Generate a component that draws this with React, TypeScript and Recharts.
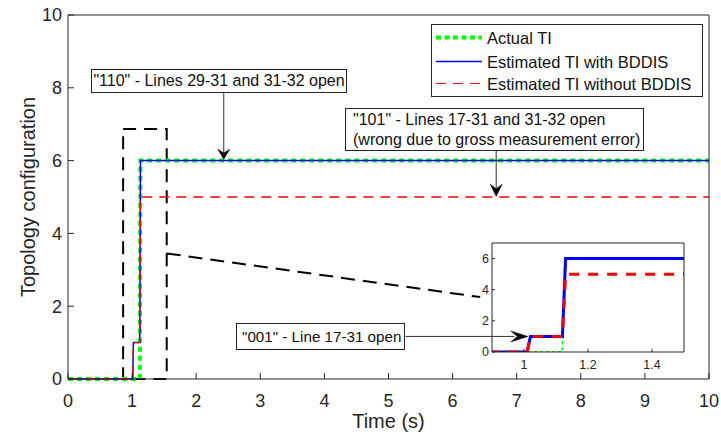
import React from 'react';
import { LineChart, Line, XAxis, YAxis, ReferenceArea, ReferenceLine, ReferenceDot } from 'recharts';

// ---------- data ----------
const timeActual = [0, 1.12, 1.13, 10];
const valueActual = [0, 0, 6, 6];
const timeWithBDDIS = [0, 1.01, 1.02, 1.12, 1.13, 10];
const valueWithBDDIS = [0, 0, 1, 1, 6, 6];
const timeWithoutBDDIS = [0, 1.01, 1.02, 1.12, 1.13, 10];
const valueWithoutBDDIS = [0, 0, 1, 1, 5, 5];

const mainXTicks = [0, 1, 2, 3, 4, 5, 6, 7, 8, 9, 10];
const mainYTicks = [0, 2, 4, 6, 8, 10];
const insetXTicks = [1, 1.2, 1.4];
const insetYTicks = [0, 2, 4, 6];

const seriesNames = ['Actual TI', 'Estimated TI with BDDIS', 'Estimated TI without BDDIS'];
const note110 = '"110" - Lines 29-31 and 31-32 open';
const note101 = ['"101" - Lines 17-31 and 31-32 open', '(wrong due to gross measurement error)'];
const note001 = '"001" - Line 17-31 open';

const toPoints = (xs: number[], ys: number[]) => xs.map((x, i) => ({ x, y: ys[i] }));
const actualData = toPoints(timeActual, valueActual);
const withData = toPoints(timeWithBDDIS, valueWithBDDIS);
const withoutData = toPoints(timeWithoutBDDIS, valueWithoutBDDIS);

const FONT = '"Liberation Sans", Arial, Helvetica, sans-serif';
const AX = '#262626';
const GREEN = '#00ff00';
const BLUE = '#0000ff';
const RED = '#ff0000';

const arrowHead = (angle: number, len: number, wid: number) => (props: any) => {
  const { cx, cy } = props;
  if (cx == null || cy == null) return null;
  const d = `M0,0 L${-len},${-wid / 2} L${-len * 0.62},0 L${-len},${wid / 2} Z`;
  return <path d={d} fill="#000" stroke="#000" strokeWidth={0.5} transform={`translate(${cx},${cy}) rotate(${angle})`} />;
};

const yLabel = (props: any) => {
  const vb = props.viewBox || { x: 0, y: 15, width: 68, height: 364 };
  const x = vb.x + 28;
  const y = vb.y + vb.height / 2;
  return (
    <text x={x} y={y} transform={`rotate(-90, ${x}, ${y})`} textAnchor="middle" dominantBaseline="central" fontSize={20} fontFamily={FONT} fill={AX}>
      Topology configuration
    </text>
  );
};

const xLabel = (props: any) => {
  const vb = props.viewBox || { x: 68, y: 379, width: 641, height: 60 };
  return (
    <text x={vb.x + vb.width / 2} y={vb.y + 42} textAnchor="middle" dominantBaseline="central" fontSize={20} fontFamily={FONT} fill={AX}>
      Time (s)
    </text>
  );
};

const boxStyle: React.CSSProperties = {
  position: 'absolute',
  background: '#fff',
  border: '1px solid #262626',
  boxSizing: 'border-box',
  fontFamily: FONT,
  fontSize: 16,
  color: '#111',
  whiteSpace: 'nowrap',
};

export default function App() {
  return (
    <div style={{ position: 'absolute', left: 0, top: 0, width: 721, height: 439, background: '#fff', overflow: 'hidden' }}>
      <div style={{ position: 'absolute', left: 0, top: 0 }}>
        <LineChart width={721} height={439} margin={{ top: 14, right: 11, bottom: 0, left: 0 }}>
          <XAxis
            dataKey="x"
            type="number"
            domain={[0, 10]}
            ticks={mainXTicks}
            interval={0}
            height={60}
            tickSize={-6}
            tickMargin={21}
            stroke={AX}
            tick={{ fill: AX, fontSize: 18, fontFamily: FONT }}
            label={xLabel}
          />
          <XAxis xAxisId="top" orientation="top" type="number" domain={[0, 10]} ticks={mainXTicks} interval={0} height={1} tickSize={-6} tick={false} stroke={AX} />
          <YAxis
            type="number"
            domain={[0, 10]}
            ticks={mainYTicks}
            interval={0}
            width={68}
            tickSize={-6}
            tickMargin={12}
            stroke={AX}
            tick={{ fill: AX, fontSize: 18, fontFamily: FONT }}
            label={yLabel}
          />
          <YAxis yAxisId="right" orientation="right" type="number" domain={[0, 10]} ticks={mainYTicks} interval={0} width={1} tickSize={-6} tick={false} stroke={AX} />

          <ReferenceArea x1={0.86} x2={1.54} y1={0} y2={6.87} fill="none" fillOpacity={0} stroke="#000" strokeWidth={2} strokeDasharray="13 8" />
          <ReferenceLine segment={[{ x: 1.54, y: 3.45 }, { x: 6.43, y: 2.25 }]} stroke="#000" strokeWidth={2} strokeDasharray="14 8" ifOverflow="visible" />

          <Line data={actualData} dataKey="y" name={seriesNames[0]} type="linear" stroke={GREEN} strokeWidth={4} strokeDasharray="5 4" dot={false} isAnimationActive={false} />
          <Line data={withData} dataKey="y" name={seriesNames[1]} type="linear" stroke={BLUE} strokeWidth={1.5} dot={false} isAnimationActive={false} />
          <Line data={withoutData} dataKey="y" name={seriesNames[2]} type="linear" stroke={RED} strokeWidth={1.3} strokeDasharray="10 7" dot={false} isAnimationActive={false} />

          <ReferenceLine segment={[{ x: 2.43, y: 7.88 }, { x: 2.43, y: 6.2 }]} stroke="#333" strokeWidth={1} ifOverflow="visible" />
          <ReferenceDot x={2.43} y={6.04} r={1} ifOverflow="visible" shape={arrowHead(90, 10, 12)} />
          <ReferenceLine segment={[{ x: 6.68, y: 6.29 }, { x: 6.68, y: 5.2 }]} stroke="#333" strokeWidth={1} ifOverflow="visible" />
          <ReferenceDot x={6.68} y={5.02} r={1} ifOverflow="visible" shape={arrowHead(90, 12, 12)} />
        </LineChart>
      </div>

      {/* inset */}
      <div style={{ position: 'absolute', left: 392, top: 233 }}>
        <LineChart width={310} height={140} margin={{ top: 9, right: 17, bottom: 0, left: 70 }}>
          <XAxis
            dataKey="x"
            type="number"
            domain={[0.9, 1.5]}
            allowDataOverflow
            ticks={insetXTicks}
            interval={0}
            height={21}
            tickSize={-3}
            tickMargin={11}
            stroke={AX}
            tick={{ fill: AX, fontSize: 12.5, fontFamily: FONT }}
          />
          <XAxis xAxisId="top" orientation="top" type="number" domain={[0.9, 1.5]} allowDataOverflow ticks={insetXTicks} interval={0} height={1} tickSize={-3} tick={false} stroke={AX} />
          <YAxis
            type="number"
            domain={[0, 7]}
            allowDataOverflow
            ticks={insetYTicks}
            interval={0}
            width={30}
            tickSize={-3}
            tickMargin={6}
            stroke={AX}
            tick={{ fill: AX, fontSize: 12.5, fontFamily: FONT }}
          />
          <YAxis yAxisId="right" orientation="right" type="number" domain={[0, 7]} allowDataOverflow ticks={insetYTicks} interval={0} width={1} tickSize={-3} tick={false} stroke={AX} />

          <Line data={actualData} dataKey="y" type="linear" stroke={GREEN} strokeWidth={2} strokeDasharray="3 3" dot={false} isAnimationActive={false} />
          <Line data={withData} dataKey="y" type="linear" stroke={BLUE} strokeWidth={3} dot={false} isAnimationActive={false} />
          <Line data={withoutData} dataKey="y" type="linear" stroke={RED} strokeWidth={3} strokeDasharray="10 9" dot={false} isAnimationActive={false} />

          <ReferenceLine segment={[{ x: 0.63, y: 1 }, { x: 0.97, y: 1 }]} stroke="#333" strokeWidth={1} ifOverflow="visible" />
          <ReferenceDot x={1.012} y={1} r={1} ifOverflow="visible" shape={arrowHead(0, 17, 11)} />
        </LineChart>
      </div>

      {/* legend */}
      <div style={{ position: 'absolute', left: 431, top: 24 }}>
        <svg width={272} height={73}>
          <rect x={0.5} y={0.5} width={271} height={72} fill="#fff" stroke={AX} strokeWidth={1} />
          <line x1={5} x2={51} y1={13.5} y2={13.5} stroke={GREEN} strokeWidth={4} strokeDasharray="5 3.5" />
          <line x1={5} x2={51} y1={37.5} y2={37.5} stroke={BLUE} strokeWidth={1.5} />
          <line x1={5} x2={51} y1={59.5} y2={59.5} stroke={RED} strokeWidth={1.2} strokeDasharray="10 7" />
          {seriesNames.map((n, i) => (
            <text key={n} x={56} y={[13.5, 37.5, 59.5][i]} dominantBaseline="central" fontSize={16.5} fontFamily={FONT} fill="#111">
              {n}
            </text>
          ))}
        </svg>
      </div>

      {/* annotations */}
      <div style={{ ...boxStyle, left: 91, top: 69, width: 256, height: 24, lineHeight: '22px', textAlign: 'center' }}>{note110}</div>
      <div style={{ ...boxStyle, left: 345, top: 108, width: 299, height: 43, lineHeight: '20px', padding: '1px 0 0 7px' }}>
        <div>{note101[0]}</div>
        <div>{note101[1]}</div>
      </div>
      <div style={{ ...boxStyle, left: 236, top: 323, width: 169, height: 27, lineHeight: '25px', paddingLeft: 5, fontSize: 15.2 }}>{note001}</div>
    </div>
  );
}
